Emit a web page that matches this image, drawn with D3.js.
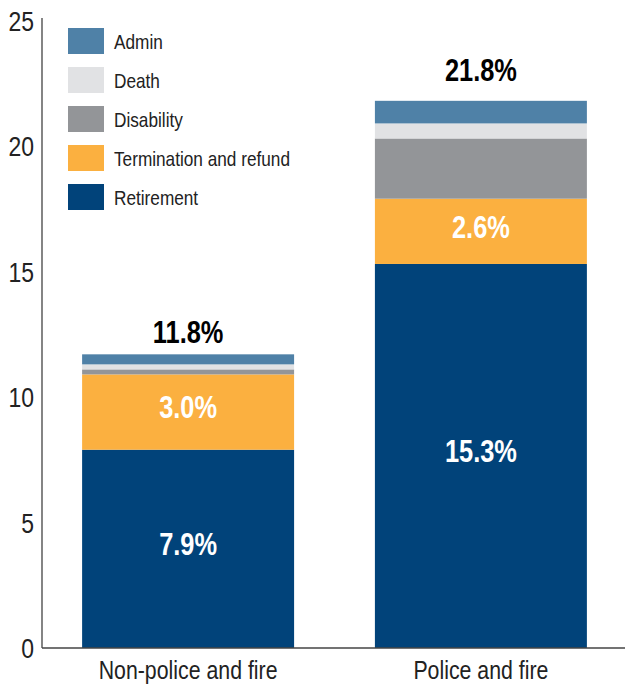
<!DOCTYPE html>
<html>
<head>
<meta charset="utf-8">
<script src="https://cdn.jsdelivr.net/npm/d3@7"></script>
<style>
  body { margin: 0; background: #fff; }
  text { font-family: "Liberation Sans", Arial, sans-serif; }
</style>
</head>
<body>
<div id="chart"></div>
<script>
// categories and series (percent of payroll)
var groups = ["Non-police and fire", "Police and fire"];
var seriesNames = ["Retirement", "Termination and refund", "Disability", "Death", "Admin"];
var retirement = [7.9, 15.3];
var termination = [3.0, 2.6];
var disability = [0.2, 2.4];
var death = [0.2, 0.6];
var admin = [0.4, 0.9];
var totals = [11.8, 21.8];
var yTicks = [0, 5, 10, 15, 20, 25];

var colors = ["#01437a", "#fbb040", "#939598", "#e1e2e4", "#4f81a7"];

var width = 625, height = 688;
var narrow = 0.82; // squeeze text to look like a condensed face
var totalGap = [11, 20]; // space between bar top and total label

var svg = d3.select("#chart").append("svg")
    .attr("width", width)
    .attr("height", height);

// narrow text placed at (px, py)
function place(px, py) {
  return "translate(" + px + "," + py + ") scale(" + narrow + ",1)";
}

// build rows for the stack
var seriesVals = [retirement, termination, disability, death, admin];
var rows = groups.map(function(g, i) {
  var r = {group: g};
  seriesNames.forEach(function(s, j) { r[s] = seriesVals[j][i]; });
  return r;
});
var stacked = d3.stack().keys(seriesNames)(rows);

var x = d3.scaleBand()
    .domain(groups)
    .range([42, 627])
    .paddingInner(0.276)
    .paddingOuter(0.137);

var y = d3.scaleLinear()
    .domain([0, 25])
    .range([648, 20.5]);

// bars
svg.selectAll("g.layer")
  .data(stacked)
  .enter().append("g")
    .attr("class", "layer")
    .attr("fill", function(d, i) { return colors[i]; })
  .selectAll("rect")
  .data(function(d) { return d; })
  .enter().append("rect")
    .attr("x", function(d) { return x(d.data.group); })
    .attr("y", function(d) { return y(d[1]); })
    .attr("width", x.bandwidth())
    .attr("height", function(d) { return y(d[0]) - y(d[1]); });

// y axis line
svg.append("line")
    .attr("x1", 42).attr("x2", 42)
    .attr("y1", 18).attr("y2", 648)
    .attr("stroke", "#333").attr("stroke-width", 1.2);
// baseline
svg.append("line")
    .attr("x1", 42).attr("x2", 625)
    .attr("y1", 648).attr("y2", 648)
    .attr("stroke", "#444").attr("stroke-width", 1.5);

// y tick labels
svg.selectAll("text.ytick")
  .data(yTicks)
  .enter().append("text")
    .attr("class", "ytick")
    .attr("transform", function(d) { return place(34, y(d)); })
    .attr("dy", "0.36em")
    .attr("text-anchor", "end")
    .attr("font-size", 28)
    .attr("fill", "#222")
    .text(function(d) { return d; });

// x labels
svg.selectAll("text.xlab")
  .data(groups)
  .enter().append("text")
    .attr("class", "xlab")
    .attr("transform", function(d) { return place(x(d) + x.bandwidth() / 2, 679); })
    .attr("text-anchor", "middle")
    .attr("font-size", 26)
    .attr("fill", "#222")
    .text(function(d) { return d; });

// value labels inside retirement and termination segments
var fmt = function(v) { return v.toFixed(1) + "%"; };
[0, 1].forEach(function(k) {
  svg.selectAll("text.val" + k)
    .data(stacked[k])
    .enter().append("text")
      .attr("transform", function(d) {
        return place(x(d.data.group) + x.bandwidth() / 2, y((d[0] + d[1]) / 2) - 5);
      })
      .attr("dy", "0.36em")
      .attr("text-anchor", "middle")
      .attr("font-size", 31)
      .attr("font-weight", "bold")
      .attr("fill", "#fff")
      .text(function(d) { return fmt(d[1] - d[0]); });
});

// totals above bars
svg.selectAll("text.total")
  .data(groups)
  .enter().append("text")
    .attr("class", "total")
    .attr("transform", function(d, i) {
      var top = d3.sum(seriesVals, function(s) { return s[i]; });
      return place(x(d) + x.bandwidth() / 2, y(top) - totalGap[i]);
    })
    .attr("text-anchor", "middle")
    .attr("font-size", 31)
    .attr("font-weight", "bold")
    .attr("fill", "#000")
    .text(function(d, i) { return fmt(totals[i]); });

// legend, top item is Admin
var legendItems = seriesNames.slice().reverse();
var legend = svg.selectAll("g.legend")
  .data(legendItems)
  .enter().append("g")
    .attr("class", "legend")
    .attr("transform", function(d, i) { return "translate(68," + (28 + i * 39) + ")"; });
legend.append("rect")
    .attr("width", 36).attr("height", 26)
    .attr("fill", function(d) { return colors[seriesNames.indexOf(d)]; });
legend.append("text")
    .attr("transform", place(46, 13))
    .attr("dy", "0.36em")
    .attr("font-size", 21)
    .attr("fill", "#222")
    .text(function(d) { return d; });
</script>
</body>
</html>
